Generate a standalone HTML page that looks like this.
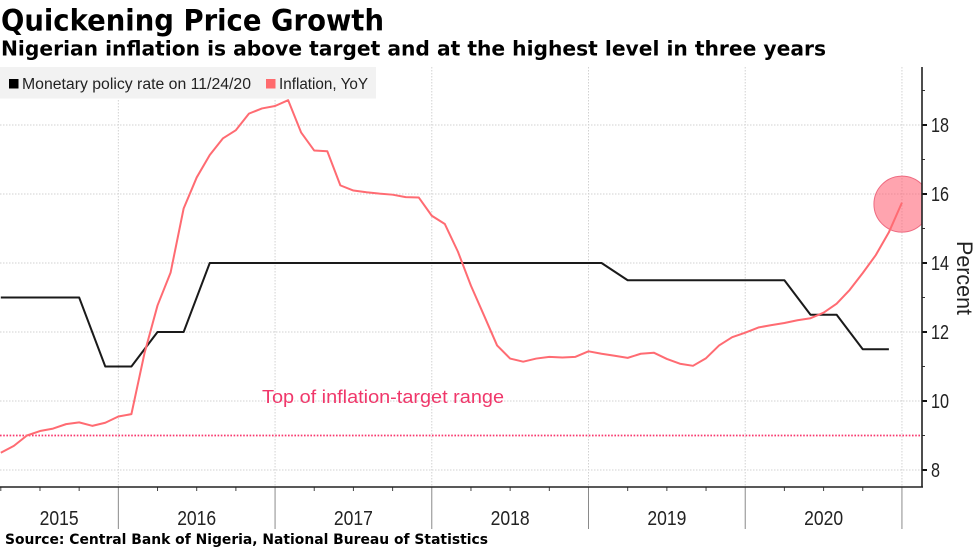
<!DOCTYPE html>
<html lang="en">
<head>
<meta charset="utf-8">
<title>Quickening Price Growth</title>
<style>
html,body{margin:0;padding:0;background:#fff;}
svg{display:block;font-family:"Liberation Sans",sans-serif;}
</style>
</head>
<body>
<svg id="chart" width="977" height="549" viewBox="0 0 977 549" xmlns="http://www.w3.org/2000/svg">
  <defs>
    <clipPath id="plot-clip"><rect x="0" y="60" width="922" height="427"/></clipPath>
  </defs>
  <rect x="0" y="0" width="977" height="549" fill="#fff"/>
  <text x="1" y="30.5" font-family="'DejaVu Sans',sans-serif" font-weight="700" font-size="29" textLength="383" lengthAdjust="spacingAndGlyphs" fill="#000">Quickening Price Growth</text>
  <text x="1" y="55.5" font-family="'DejaVu Sans',sans-serif" font-weight="700" font-size="20" textLength="825" lengthAdjust="spacingAndGlyphs" fill="#000">Nigerian inflation is above target and at the highest level in three years</text>
  <g id="grid"></g>
  <g id="legend">
    <rect x="0" y="67" width="376" height="31.5" fill="#f2f2f2"/>
    <rect x="9" y="79" width="9.5" height="9.5" fill="#000"/>
    <text x="22" y="89" font-size="15.5" textLength="229" lengthAdjust="spacingAndGlyphs" fill="#222">Monetary policy rate on 11/24/20</text>
    <rect x="266" y="79" width="9.5" height="9.5" fill="#ff6b6e"/>
    <text x="279" y="89" font-size="15.5" textLength="89" lengthAdjust="spacingAndGlyphs" fill="#222">Inflation, YoY</text>
  </g>
  <g id="target"></g>
  <text x="262" y="403" font-size="18" textLength="242" lengthAdjust="spacingAndGlyphs" fill="#f0386b">Top of inflation-target range</text>
  <g id="series" clip-path="url(#plot-clip)"></g>
  <g id="axes"></g>
  <text transform="translate(957,278) rotate(90)" text-anchor="middle" font-size="22" textLength="74" lengthAdjust="spacingAndGlyphs" fill="#222">Percent</text>
  <text x="5" y="544" font-family="'DejaVu Sans',sans-serif" font-weight="700" font-size="14" textLength="483" lengthAdjust="spacingAndGlyphs" fill="#000">Source: Central Bank of Nigeria, National Bureau of Statistics</text>
</svg>
<script>
// Monthly observations, March 2015 through December 2020
const inflation = [8.5,8.7,9.0,9.13,9.2,9.33,9.38,9.28,9.37,9.55,
  9.62,11.38,12.77,13.72,15.58,16.48,17.13,17.61,17.85,18.33,18.48,18.55,
  18.72,17.78,17.26,17.24,16.25,16.10,16.05,16.01,15.98,15.91,15.90,15.37,
  15.13,14.33,13.34,12.48,11.61,11.23,11.14,11.23,11.28,11.26,11.28,11.44,
  11.37,11.31,11.25,11.37,11.40,11.22,11.08,11.02,11.24,11.61,11.85,11.98,
  12.13,12.20,12.26,12.34,12.40,12.56,12.82,13.22,13.71,14.23,14.89,15.75];
const policyRate = [13,13,13,13,13,13,13,12,11,11,
  11,11.5,12,12,12,13,14,14,14,14,14,14,
  14,14,14,14,14,14,14,14,14,14,14,14,
  14,14,14,14,14,14,14,14,14,14,14,14,
  14,13.75,13.5,13.5,13.5,13.5,13.5,13.5,13.5,13.5,13.5,13.5,
  13.5,13.5,13.5,13,12.5,12.5,12.5,12,11.5,11.5,11.5];
const targetValue = [9];
const yearLabels = ["2015","2016","2017","2018","2019","2020"];
const majorYTicks = [8,10,12,14,16,18];
const minorYTicks = [9,11,13,15,17,19];

const svgNS = "http://www.w3.org/2000/svg";
const PLOT_RIGHT = 922, PLOT_TOP = 67, PLOT_BOTTOM = 487;
const MONTHS_TO_FIRST_YEAR_END = 9;

function xScale(i){ return 0.8 + i * 13.06; }
function yScale(v){ return 470 - (v - 8) * 34.5; }
function make(tag, parent, attrs){
  const el = document.createElementNS(svgNS, tag);
  for (const k in attrs) el.setAttribute(k, attrs[k]);
  parent.appendChild(el);
  return el;
}
function pathFrom(values){
  return values.map((v,i) => (i ? "L" : "M") + xScale(i).toFixed(2) + " " + yScale(v).toFixed(2)).join(" ");
}

const grid = document.getElementById("grid");
const axes = document.getElementById("axes");
const series = document.getElementById("series");
const target = document.getElementById("target");

// Horizontal gridlines, y ticks and labels
majorYTicks.forEach(v => {
  const y = yScale(v);
  const line = make("line", grid, {x1:0, x2:PLOT_RIGHT, y1:y, y2:y, stroke:"#d2d2d2", "stroke-width":1, "stroke-dasharray":"1.5 1.5"});
  
  
  const tick = make("line", axes, {x1:PLOT_RIGHT, x2:PLOT_RIGHT+5, y1:y, y2:y, stroke:"#111", "stroke-width":2});
  
  
  const label = make("text", axes, {x:931, y:y+7, "font-size":20, textLength: v >= 10 ? 18 : 9, lengthAdjust:"spacingAndGlyphs", fill:"#222"});
  
  
  label.textContent = v;
});
minorYTicks.forEach(v => {
  const y = yScale(v);
  const tick = make("line", axes, {x1:PLOT_RIGHT, x2:PLOT_RIGHT+3, y1:y, y2:y, stroke:"#333", "stroke-width":1});
  
  
});

// Year boundaries, quarterly ticks and year labels
yearLabels.forEach((year, n) => {
  const endIdx = MONTHS_TO_FIRST_YEAR_END + n * 12;
  const xEnd = xScale(endIdx);
  const xStart = Math.max(0, xScale(endIdx - 12));
  const line = make("line", grid, {x1:xEnd, x2:xEnd, y1:PLOT_TOP, y2:PLOT_BOTTOM, stroke:"#d2d2d2", "stroke-width":1, "stroke-dasharray":"1.5 1.5"});
  
  
  const tick = make("line", axes, {x1:xEnd, x2:xEnd, y1:PLOT_BOTTOM, y2:529, stroke:"#8a8a8a", "stroke-width":1});
  
  
  const label = make("text", axes, {x:(xStart+xEnd)/2, y:525, "text-anchor":"middle", "font-size":20, textLength:39, lengthAdjust:"spacingAndGlyphs", fill:"#222"});
  
  
  label.textContent = year;
});
inflation.forEach((_, i) => {
  if (i % 3 === 0 && (i - MONTHS_TO_FIRST_YEAR_END) % 12 !== 0) {
    const tick = make("line", axes, {x1:xScale(i), x2:xScale(i), y1:PLOT_BOTTOM, y2:491, stroke:"#444", "stroke-width":1});
    
    
  }
});

// Target line
const targetLine = make("line", target, {x1:0, x2:PLOT_RIGHT, y1:yScale(targetValue[0]), y2:yScale(targetValue[0]), stroke:"#f8386e", "stroke-width":1.8, "stroke-dasharray":"1.6 1.6"});



// Series
const policyPath = make("path", series, {d:pathFrom(policyRate), fill:"none", stroke:"#1a1a1a", "stroke-width":2, "stroke-linejoin":"round"});



const lastIdx = inflation.length - 1;
const marker = make("circle", series, {cx:xScale(lastIdx), cy:yScale(inflation[lastIdx])+1.5, r:28, fill:"#ff5a6e", "fill-opacity":0.55, stroke:"#ee6a80", "stroke-width":1});



const inflationPath = make("path", series, {d:pathFrom(inflation), fill:"none", stroke:"#ff6b72", "stroke-width":2, "stroke-linejoin":"round"});



// Axis lines
const xAxis = make("line", axes, {x1:0, x2:PLOT_RIGHT+1, y1:PLOT_BOTTOM, y2:PLOT_BOTTOM, stroke:"#222", "stroke-width":1.4});


const yAxis = make("line", axes, {x1:PLOT_RIGHT, x2:PLOT_RIGHT, y1:PLOT_TOP, y2:PLOT_BOTTOM, stroke:"#222", "stroke-width":1.6});


</script>
</body>
</html>
